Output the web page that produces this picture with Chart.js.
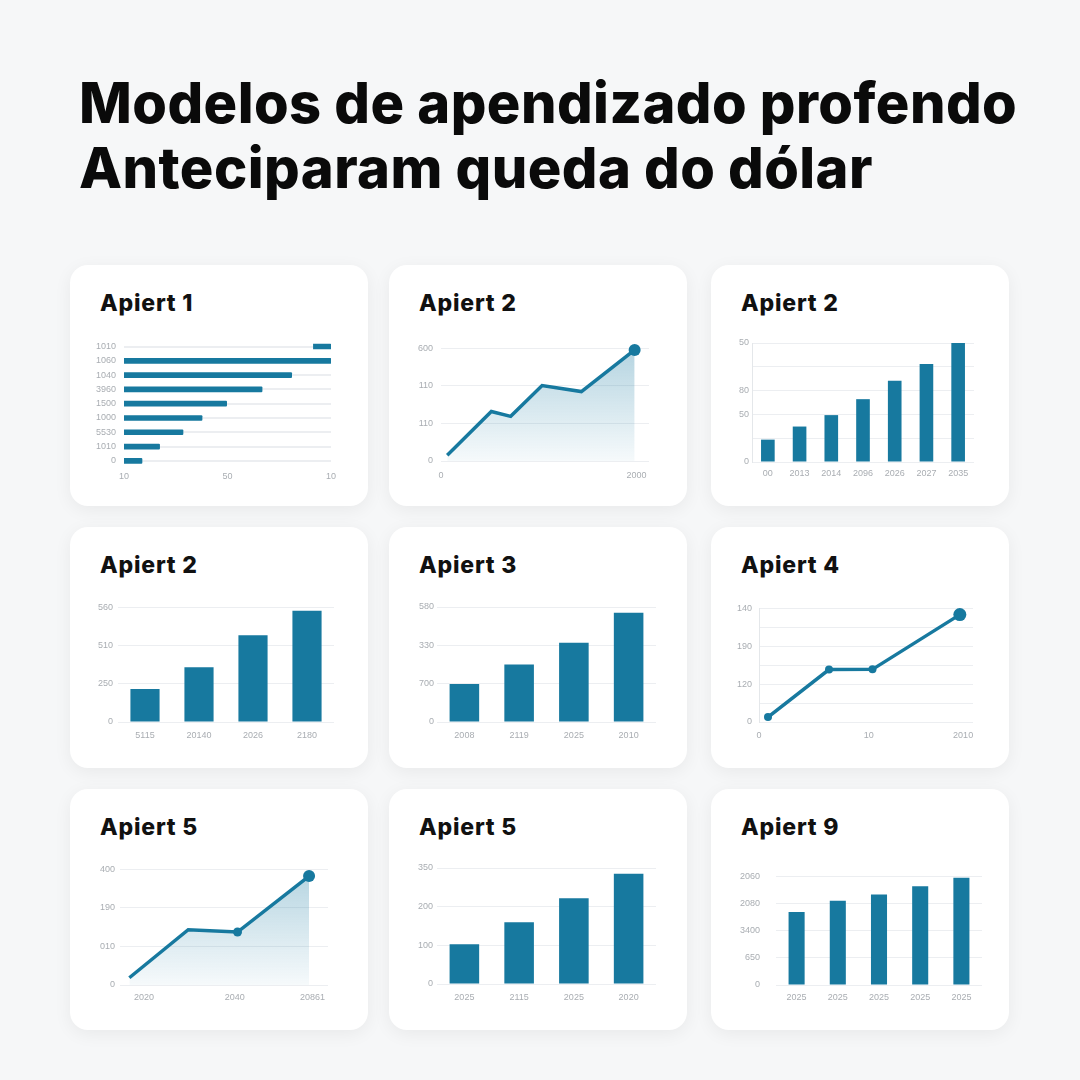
<!DOCTYPE html>
<html>
<head>
<meta charset="utf-8">
<script src="https://cdn.jsdelivr.net/npm/chart.js@4.4.1/dist/chart.umd.min.js"></script>
<style>
  body { margin: 0; width: 1080px; height: 1080px; background: #f6f7f8; position: relative; overflow: hidden; font-family: Inter, "Noto Sans", sans-serif; }
  h1 { position: absolute; left: 79px; top: 71px; margin: 0; font: 800 56px/65px Inter, sans-serif; color: #0a0a0a; letter-spacing: 0.45px; white-space: nowrap; }
  .card { position: absolute; width: 298px; height: 241px; background: #fff; border-radius: 18px; box-shadow: 0 4px 18px rgba(0,0,0,0.06); }
  .ct { position: absolute; font: 800 23px/23px Inter, sans-serif; color: #111; letter-spacing: 0.8px; }
  canvas { position: absolute; }
</style>
</head>
<body>
<h1>Modelos de apendizado profendo<br>Anteciparam queda do dólar</h1>

<script>
// card titles
const titles = ["Apiert 1", "Apiert 2", "Apiert 2", "Apiert 2", "Apiert 3", "Apiert 4", "Apiert 5", "Apiert 5", "Apiert 9"];

// panel 1 - horizontal bars
const p1Labels = ["1010", "1060", "1040", "3960", "1500", "1000", "5530", "1010", "0"];
const p1Values = [[91.5, 100], 100, 81, 66.7, 49.6, 37.7, 28.5, 17.2, 8.7];
const p1XTicks = [0, 50, 100];
const p1XLabels = ["10", "50", "10"];

// panel 2 - area line
const p2X = [3, 24.2, 33.5, 48.6, 67.5, 93.1];
const p2Y = [15.5, 132, 119, 201, 185, 296];
const p2XTicks = [0, 94];
const p2XLabels = ["0", "2000"];
const p2YLabels = ["0", "110", "110", "600"];

// panel 3 - bars
const p3Labels = ["00", "2013", "2014", "2096", "2026", "2027", "2035"];
const p3Values = [9.4, 14.9, 19.7, 26.4, 34.1, 41.2, 50];
const p3YLabels = ["0", "", "50", "80", "", "50"];

// panel 4 - bars
const p4Labels = ["5115", "20140", "2026", "2180"];
const p4Values = [86.7, 143, 227, 291.4];
const p4YLabels = ["0", "250", "510", "560"];

// panel 5 - bars
const p5Labels = ["2008", "2119", "2025", "2010"];
const p5Values = [99.4, 150, 206.7, 285];
const p5YLabels = ["0", "700", "330", "580"];

// panel 6 - line with markers
const p6X = [0.82, 6.38, 10.34, 18.3];
const p6Y = [13, 138.5, 139, 283.6];
const p6XTicks = [0, 10, 18.6];
const p6XLabels = ["0", "10", "2010"];
const p6YLabels = ["0", "", "120", "", "190", "", "140"];

// panel 7 - area line
const p7X = [4.5, 32.8, 56.5, 90.9];
const p7Y = [18.8, 143.4, 137.5, 282.7];
const p7XTicks = [11.5, 55.2, 92.5];
const p7XLabels = ["2020", "2040", "20861"];
const p7YLabels = ["0", "010", "190", "400"];

// panel 8 - bars
const p8Labels = ["2025", "2115", "2025", "2020"];
const p8Values = [103, 160, 222, 285];
const p8YLabels = ["0", "100", "200", "350"];

// panel 9 - bars
const p9Labels = ["2025", "2025", "2025", "2025", "2025"];
const p9Values = [268.7, 310, 333.3, 363.3, 395.3];
const p9YLabels = ["0", "650", "3400", "2080", "2060"];

const BLUE = "#17799f";
const GRID = "#eceef1";
const TICK = { family: "'Liberation Sans', sans-serif", size: 9 };
const TICK_COLOR = "#a9adb2";

// card boxes and plot areas (page coords)
const cardPos = [[70, 265], [389, 265], [711, 265], [70, 527], [389, 527], [711, 527], [70, 789], [389, 789], [711, 789]];
const plots = [
  { l: 124, t: 335.7, r: 331, b: 467.3, yPad: 8, xPad: 3 },
  { l: 441, t: 345, r: 649, b: 461, yPad: 8, xPad: 9 },
  { l: 752, t: 343, r: 974, b: 461.7, yPad: 3, xPad: 6 },
  { l: 118, t: 607, r: 334, b: 722.3, yPad: 5, xPad: 8 },
  { l: 437, t: 607, r: 656, b: 721.7, yPad: 3, xPad: 8 },
  { l: 759, t: 606, r: 973, b: 721.7, yPad: 7, xPad: 8 },
  { l: 120, t: 869, r: 328, b: 985.3, yPad: 5, xPad: 7 },
  { l: 437, t: 868.3, r: 656, b: 984, yPad: 4, xPad: 8 },
  { l: 776, t: 865.3, r: 982, b: 985.3, yPad: 16, xPad: 7 }
];

cardPos.forEach((c, i) => {
  const card = document.createElement("div");
  card.className = "card";
  card.style.left = c[0] + "px";
  card.style.top = c[1] + "px";
  document.body.appendChild(card);
});
cardPos.forEach((c, i) => {
  const t = document.createElement("div");
  t.className = "ct";
  t.textContent = titles[i];
  t.style.left = (c[0] + 30) + "px";
  t.style.top = (c[1] + 27) + "px";
  document.body.appendChild(t);
});

const Y_W = 40, X_H = 24, PAD = 10;

function makeCanvas(i) {
  const p = plots[i];
  const cv = document.createElement("canvas");
  const w = Math.round(p.r - p.l + Y_W + PAD);
  const h = Math.round(p.b - p.t + X_H + PAD);
  cv.width = w; cv.height = h;
  cv.style.left = (p.l - Y_W) + "px";
  cv.style.top = (p.t - PAD) + "px";
  document.body.appendChild(cv);
  return cv;
}

function areaFill(ctx) {
  const a = ctx.chart.chartArea;
  if (!a) return "rgba(23,121,160,0.15)";
  const g = ctx.chart.ctx.createLinearGradient(0, a.top, 0, a.bottom);
  g.addColorStop(0, "rgba(23,121,160,0.32)");
  g.addColorStop(1, "rgba(23,121,160,0.04)");
  return g;
}

function baseOptions(i) {
  return {
    responsive: false,
    animation: false,
    layout: { padding: { left: 0, top: PAD, right: PAD, bottom: 0 } },
    plugins: { legend: { display: false }, tooltip: { enabled: false } }
  };
}

function yLinear(i, max, step, labels, border) {
  return {
    min: 0, max: max,
    afterFit: a => { a.width = Y_W; },
    border: { display: !!border, color: "#e4e7ea" },
    grid: { color: GRID, drawTicks: false },
    ticks: { stepSize: step, padding: plots[i].yPad, font: TICK, color: TICK_COLOR,
      callback: (v, k) => labels[k] }
  };
}

function xCategory(i) {
  return {
    afterFit: a => { a.height = X_H; },
    border: { display: false },
    grid: { display: false, drawTicks: false },
    ticks: { padding: plots[i].xPad, font: TICK, color: TICK_COLOR, maxRotation: 0, autoSkip: false }
  };
}

function xLinearCustom(i, max, tickVals, labels) {
  return {
    type: "linear", min: 0, max: max,
    afterFit: a => { a.height = X_H; },
    afterBuildTicks: a => { a.ticks = tickVals.map(v => ({ value: v })); },
    border: { display: false },
    grid: { display: false, drawTicks: false },
    ticks: { padding: plots[i].xPad, font: TICK, color: TICK_COLOR, maxRotation: 0, autoSkip: false,
      callback: (v, k) => labels[k] }
  };
}

function barChart(i, labels, values, ymax, step, ylabels, pct, border) {
  new Chart(makeCanvas(i), {
    type: "bar",
    data: { labels: labels, datasets: [{ data: values, backgroundColor: BLUE, categoryPercentage: 1, barPercentage: pct }] },
    options: Object.assign(baseOptions(i), {
      scales: { x: xCategory(i), y: yLinear(i, ymax, step, ylabels, border) }
    })
  });
}

function lineChart(i, xs, ys, xmax, xticks, xlabels, ylabels, yStep, radii, filled, border) {
  new Chart(makeCanvas(i), {
    type: "line",
    data: {
      datasets: [{
        data: xs.map((x, k) => ({ x: x, y: ys[k] })),
        borderColor: BLUE, borderWidth: 3.5,
        backgroundColor: filled ? areaFill : "transparent",
        fill: filled ? "origin" : false,
        pointRadius: radii, pointBackgroundColor: BLUE, pointBorderWidth: 0,
        tension: 0, clip: false
      }]
    },
    options: Object.assign(baseOptions(i), {
      scales: { x: xLinearCustom(i, xmax, xticks, xlabels), y: yLinear(i, 300, yStep, ylabels, border) }
    })
  });
}

// panel 1
new Chart(makeCanvas(0), {
  type: "bar",
  data: { labels: p1Labels, datasets: [{ data: p1Values, backgroundColor: BLUE, barThickness: 5, borderRadius: 1 }] },
  options: Object.assign(baseOptions(0), {
    indexAxis: "y",
    scales: {
      y: {
        afterFit: a => { a.width = Y_W; },
        border: { display: false },
        grid: { offset: false, color: GRID, lineWidth: 2, drawTicks: false },
        ticks: { padding: plots[0].yPad, font: TICK, color: TICK_COLOR, autoSkip: false }
      },
      x: xLinearCustom(0, 100, p1XTicks, p1XLabels)
    }
  })
});

lineChart(1, p2X, p2Y, 100, p2XTicks, p2XLabels, p2YLabels, 100, [0, 0, 0, 0, 0, 6], true, false);
barChart(2, p3Labels, p3Values, 50, 10, p3YLabels, 0.43, true);
barChart(3, p4Labels, p4Values, 300, 100, p4YLabels, 0.54, false);
barChart(4, p5Labels, p5Values, 300, 100, p5YLabels, 0.54, false);
lineChart(5, p6X, p6Y, 19.5, p6XTicks, p6XLabels, p6YLabels, 50, [4, 4, 4, 6.5], false, true);
lineChart(6, p7X, p7Y, 100, p7XTicks, p7XLabels, p7YLabels, 100, [0, 0, 4.5, 6], true, false);
barChart(7, p8Labels, p8Values, 300, 100, p8YLabels, 0.54, false);
barChart(8, p9Labels, p9Values, 400, 100, p9YLabels, 0.39, false);
</script>
</body>
</html>
